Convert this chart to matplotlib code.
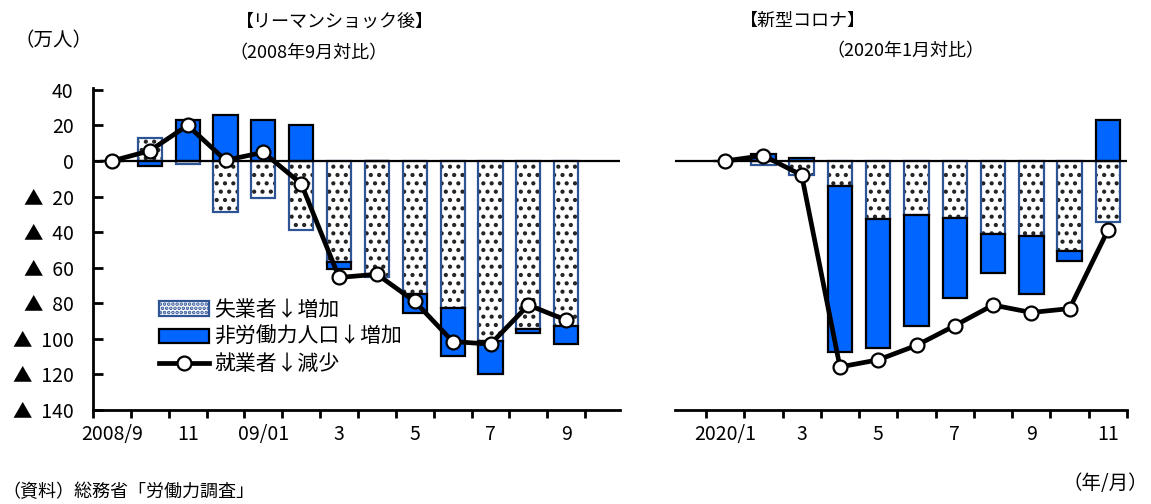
import numpy as np
import matplotlib
matplotlib.use('Agg')
import matplotlib.pyplot as plt
from matplotlib.patches import Patch
from matplotlib.lines import Line2D

plt.rcParams['font.family'] = ['Noto Sans CJK JP', 'DejaVu Sans']
plt.rcParams['hatch.linewidth'] = 1.8

# リーマンショック後（2008年9月対比、万人）
lehman_labels = ['2008/9', '', '11', '', '09/01', '', '3', '', '5', '', '7', '', '9']
lehman_unemp = [0, 13, -2, -28.5, -21, -39, -57, -65, -75, -82.6, -101, -94.6, -92.8]
lehman_nilf = [0, -2.6, 23, 26, 23, 20, -4, 0, -10.4, -26.8, -18.6, -2.3, -10.2]
lehman_emp = [0, 5.7, 20, 0.4, 4.8, -12.8, -65.5, -63.7, -79, -101.5, -103, -81, -89.5]

# 新型コロナ（2020年1月対比、万人）
covid_labels = ['2020/1', '', '3', '', '5', '', '7', '', '9', '', '11']
covid_unemp = [0, -2.5, -8, -14.3, -32.4, -30.2, -32, -41, -42, -50.4, -34.3]
covid_nilf = [0, 4, 1.5, -93.2, -72.8, -62.4, -45.2, -22, -32.6, -6.1, 23]
covid_emp = [0, 3, -8, -115.8, -111.8, -103.7, -92.6, -81, -85.2, -83, -39]

blue = '#0066FF'
navy = '#2F5496'
W, H = 1151, 504


def tri_fmt(v, pos=None):
    if v < 0:
        return '▲  %d' % -v
    return '%d' % v


def draw_panel(ax, unemp, nilf, emp, labels):
    x = np.arange(len(unemp))
    unemp = np.array(unemp, dtype=float)
    nilf = np.array(nilf, dtype=float)
    # 非労働力人口は失業者と同じ向きなら積み上げる
    base = np.where(np.sign(nilf) == np.sign(unemp), unemp, 0)
    ax.bar(x, unemp, width=0.64, color='white', edgecolor='#222222',
           hatch='..', linewidth=0, zorder=2)
    ax.bar(x, unemp, width=0.64, fill=False, edgecolor=navy,
           linewidth=1.6, zorder=2)
    ax.bar(x, nilf, bottom=base, width=0.64, color=blue,
           edgecolor='black', linewidth=1.6, zorder=2)
    ax.axhline(0, color='black', lw=1.6, zorder=3)
    ax.plot(x, emp, color='black', lw=3.4, marker='o', ms=10,
            mfc='white', mec='black', mew=1.6, zorder=4)

    ax.set_ylim(-140, 41)
    ax.set_xticks(np.arange(-0.5, len(unemp)), [])
    ax.set_xticks(x, labels, minor=True)
    ax.tick_params(axis='x', which='major', direction='out', length=6, width=2)
    ax.tick_params(axis='x', which='minor', length=0, pad=10, labelsize=14)
    for s in ['top', 'right']:
        ax.spines[s].set_visible(False)
    ax.spines['bottom'].set_linewidth(2)
    ax.spines['left'].set_linewidth(2)


fig = plt.figure(figsize=(W / 100, H / 100), dpi=100)

ax1 = fig.add_axes([93 / W, 1 - 410 / H, 527 / W, 322 / H])
draw_panel(ax1, lehman_unemp, lehman_nilf, lehman_emp, lehman_labels)
ax1.set_xlim(-0.5, 13.42)
ax1.set_yticks(np.arange(-140, 41, 20))
ax1.yaxis.set_major_formatter(plt.FuncFormatter(tri_fmt))
ax1.tick_params(axis='y', direction='in', length=7, width=2, pad=14, labelsize=14)

ax2 = fig.add_axes([675 / W, 1 - 410 / H, 452 / W, 322 / H])
draw_panel(ax2, covid_unemp, covid_nilf, covid_emp, covid_labels)
ax2.set_xlim(-1.31, 10.5)
ax2.spines['left'].set_visible(False)
ax2.set_yticks([])

handles = [
    Patch(facecolor='white', edgecolor=navy, hatch='....', linewidth=1.6),
    Patch(facecolor=blue, edgecolor='black', linewidth=1.6),
    Line2D([], [], color='black', lw=3.4, marker='o', ms=10,
           mfc='white', mec='black', mew=1.6),
]
ax1.legend(handles, ['失業者↓増加', '非労働力人口↓増加', '就業者↓減少'],
           loc='upper left', bbox_to_anchor=(0.125, 0.345), frameon=False,
           fontsize=15, borderpad=0, borderaxespad=0, handlelength=2.4,
           handleheight=0.7, handletextpad=0.25, labelspacing=0.25)

fig.text(335 / W, 1 - 22 / H, '【リーマンショック後】', ha='center', va='center', fontsize=13)
fig.text(308 / W, 1 - 53 / H, '（2008年9月対比）', ha='center', va='center', fontsize=13)
fig.text(803 / W, 1 - 21 / H, '【新型コロナ】', ha='center', va='center', fontsize=13)
fig.text(905 / W, 1 - 51 / H, '（2020年1月対比）', ha='center', va='center', fontsize=13)
fig.text(54 / W, 1 - 41 / H, '（万人）', ha='center', va='center', fontsize=14)
fig.text(1105 / W, 1 - 483 / H, '（年/月）', ha='center', va='center', fontsize=14)
fig.text(2 / W, 1 - 492 / H, '（資料）総務省「労働力調査」', ha='left', va='center', fontsize=13)

fig.savefig('out.png', dpi=100)
